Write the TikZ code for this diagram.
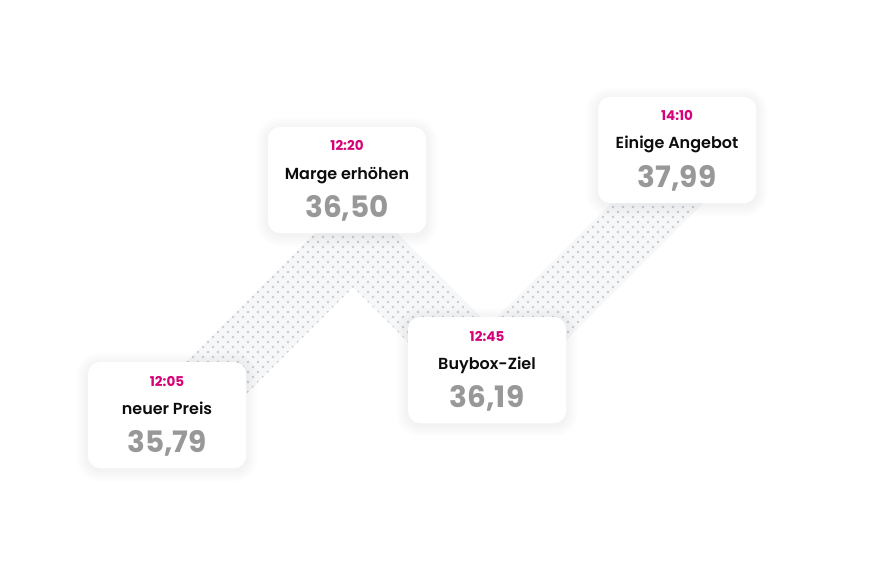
\documentclass[tikz,border=0pt]{standalone}
\usepackage{fontspec}
\setmainfont{Poppins}
\newfontfamily\halbfett{Poppins SemiBold}

\definecolor{timepink}{RGB}{214,0,120}
\definecolor{pricegray}{RGB}{152,152,152}
\definecolor{bandfill}{RGB}{246,247,249}
\definecolor{dotgray}{RGB}{202,203,208}

\tikzset{
  card/.style={draw=none,fill=white,rounded corners=12pt,minimum width=158pt,minimum height=106pt},
  schatten/.style={fill=black,opacity=0.004,rounded corners=12pt+#1},
  zeit/.style={anchor=base,text=timepink,font=\bfseries\fontsize{13.5}{16}\selectfont},
  titel/.style={anchor=base,text=black!95,font=\halbfett\fontsize{16}{19}\selectfont},
  preis/.style={anchor=base,text=pricegray,font=\bfseries\fontsize{29.5}{34}\selectfont}
}

\begin{document}
\begin{tikzpicture}[x=1pt,y=-1pt]
\useasboundingbox (0,0) rectangle (890,572);

% dotted band
\begin{scope}
\clip (154,394) -- (356,192) -- (535,371) -- (723,183) -- (677,137) -- (440,374) -- (353,287) -- (200,440) -- cycle;
\fill[bandfill] (140,120) rectangle (740,450);
\foreach \j in {0,...,64} {
  \fill[dotgray] \foreach \i in {0,...,59} {({148+10*\i+5*mod(\j,2)},{132+5*\j}) circle[radius=1.4pt]};
}
\end{scope}

% soft shadows under the cards
\foreach \cx/\cy in {167/415,347/180,487/370,677/150} {
  \foreach \k in {1,...,12} {
    \fill[schatten=\k pt] ({\cx-79-\k},{\cy-53-\k+2}) rectangle ({\cx+79+\k},{\cy+53+\k+2});
  }
}

% cards
\node[card] (preis1) at (167,415) {};
\node[card] (preis2) at (347,180) {};
\node[card] (preis3) at (487,370) {};
\node[card] (preis4) at (677,150) {};

\node[zeit] (zeit1) at (167,386) {12:05};
\node[titel] (titel1) at (167,414) {neuer Preis};
\node[preis] (wert1) at (167,452) {35,79};

\node[zeit] (zeit2) at (347,151) {12:20};
\node[titel] (titel2) at (347,179) {Marge erhöhen};
\node[preis] (wert2) at (347,217) {36,50};

\node[zeit] (zeit3) at (487,341) {12:45};
\node[titel] (titel3) at (487,369) {Buybox-Ziel};
\node[preis] (wert3) at (487,407) {36,19};

\node[zeit] (zeit4) at (677,121) {14:10};
\node[titel] (titel4) at (677,149) {Einige Angebot};
\node[preis] (wert4) at (677,187) {37,99};
\end{tikzpicture}
\end{document}
